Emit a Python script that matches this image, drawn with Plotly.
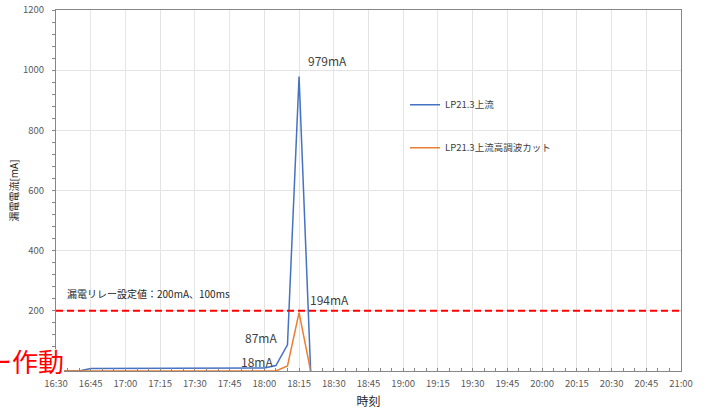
import plotly.graph_objects as go

times = ["16:30", "16:35", "16:40", "16:45", "16:50", "16:55", "17:00", "17:05", "17:10",
         "17:15", "17:20", "17:25", "17:30", "17:35", "17:40", "17:45", "17:50", "17:55",
         "18:00", "18:05", "18:10", "18:15", "18:20"]
blue_vals = [0, 0, 0, 8, 8, 9, 10, 10, 10, 10, 10, 10, 10, 10, 10, 10, 10, 10,
             10, 18, 87, 979, 0]
orange_vals = [0, 0, 0, 0, 0, 0, 0, 0, 0, 0, 0, 0, 0, 0, 0, 0, 0, 0,
               0, 0, 17, 194, 0]
series_names = ["LP21.3上流", "LP21.3上流高調波カット"]
threshold = 200
xtick_labels = ["16:30", "16:45", "17:00", "17:15", "17:30", "17:45", "18:00", "18:15",
                "18:30", "18:45", "19:00", "19:15", "19:30", "19:45", "20:00", "20:15",
                "20:30", "20:45", "21:00"]
ytick_vals = [0, 200, 400, 600, 800, 1000, 1200]
ytick_text = ["", "200", "400", "600", "800", "1000", "1200"]

D = "2021-01-01 "
x = [D + t for t in times]

FONT = "Noto Sans CJK JP"
fig = go.Figure()
fig.add_trace(go.Scatter(x=x, y=blue_vals, mode="lines", name=series_names[0],
                         line=dict(color="#4472C4", width=1.5), legendgroup="a"))
fig.add_trace(go.Scatter(x=x, y=orange_vals, mode="lines", name=series_names[1],
                         line=dict(color="#ED7D31", width=1.5), legendgroup="b"))

fig.add_shape(type="line", xref="paper", x0=0, x1=1, yref="y", y0=threshold, y1=threshold,
              line=dict(color="#FF0000", width=2, dash="7px,4px"))
# white patch behind the red label (hides axis corner as in the reference)
fig.add_shape(type="rect", xref="paper", yref="paper", layer="above",
              x0=-0.1, x1=(64 - 56) / 625, y0=(370 - 372) / 360, y1=(370 - 348) / 360,
              fillcolor="white", line=dict(width=0))

ann_font = dict(family=FONT, size=12, color="#404040")
fig.add_annotation(x=D + "18:27:30", y=1033, text="979mA", showarrow=False, font=ann_font)
fig.add_annotation(x=D + "18:28", y=237, text="194mA", showarrow=False, font=ann_font)
fig.add_annotation(x=D + "17:58:36", y=110, text="87mA", showarrow=False, font=ann_font)
fig.add_annotation(x=D + "17:56:48", y=33, text="18mA", showarrow=False, font=ann_font)
fig.add_annotation(x=D + "16:33:54", y=257, text="漏電リレー設定値：200mA、100ms",
                   showarrow=False, xanchor="left",
                   font=dict(family=FONT, size=10, color="#262626"))
fig.add_annotation(xref="paper", yref="paper", x=(65 - 56) / 625, y=(370 - 360) / 360,
                   text="ー作動", showarrow=False, xanchor="right", yanchor="middle",
                   borderpad=0, height=27,
                   font=dict(family=FONT, size=26, color="#FF0000"))

tick_font = dict(family=FONT, size=9.5, color="#595959")
fig.update_xaxes(type="date", range=[D + "16:30", D + "21:00"], automargin=False,
                 tickvals=[D + t for t in xtick_labels], ticktext=xtick_labels,
                 tickfont=tick_font, showgrid=True, gridcolor="#E4E4E4", gridwidth=1,
                 showline=True, linecolor="#868686", linewidth=1, mirror=True,
                 ticks="inside", ticklen=3, tickcolor="#868686", ticklabelstandoff=4,
                 minor=dict(dtick=5 * 60 * 1000, tick0=D + "16:30", ticks="inside",
                            ticklen=3, tickcolor="#868686", showgrid=False),
                 title=dict(text="時刻", font=dict(family=FONT, size=12, color="#262626"),
                            standoff=8),
                 zeroline=False)
fig.update_yaxes(range=[0, 1200], tickvals=ytick_vals, ticktext=ytick_text, tickfont=tick_font,
                 automargin=False,
                 showgrid=True, gridcolor="#E4E4E4", gridwidth=1,
                 showline=True, linecolor="#868686", linewidth=1, mirror=True,
                 ticks="outside", ticklen=3, tickcolor="#868686", ticklabelstandoff=6,
                 minor=dict(dtick=40, ticks="outside", ticklen=3, tickcolor="#868686",
                            showgrid=False),
                 title=dict(text="漏電電流[mA]", font=dict(family=FONT, size=10, color="#262626"),
                            standoff=2),
                 zeroline=False)

fig.update_layout(
    width=709, height=412,
    margin=dict(l=56, r=28, t=10, b=41, autoexpand=False),
    plot_bgcolor="white", paper_bgcolor="white",
    font=dict(family=FONT),
    legend=dict(x=(405 - 56) / 625, y=(370 - 90) / 360, xanchor="left", yanchor="top",
                font=dict(family=FONT, size=9.5, color="#404040"),
                tracegroupgap=24, itemwidth=30, bgcolor="rgba(0,0,0,0)"),
)
fig.write_html("out.html")
